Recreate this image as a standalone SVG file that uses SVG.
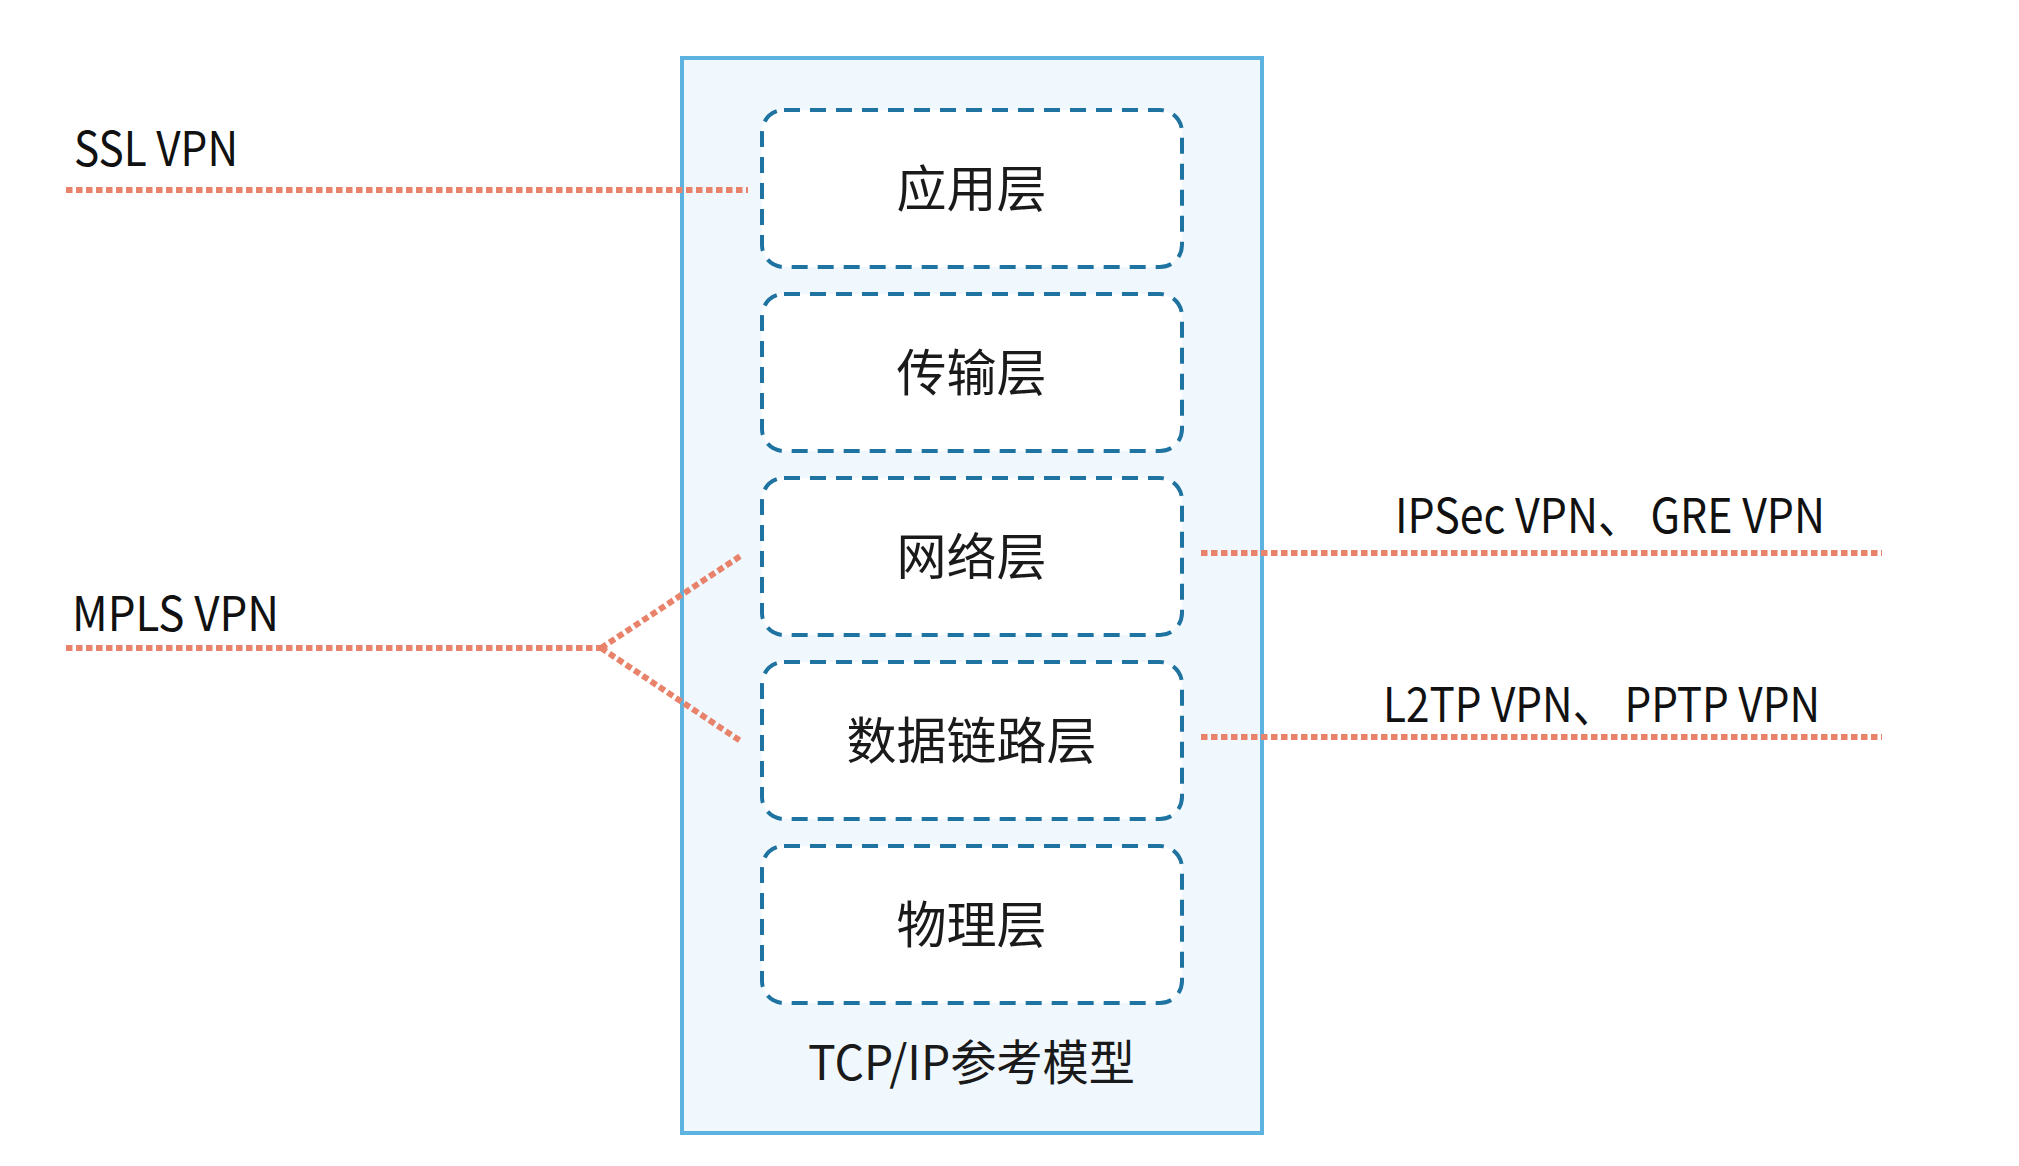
<svg xmlns="http://www.w3.org/2000/svg" width="2019" height="1166" viewBox="0 0 2019 1166">
<style>
.outer{fill:#f0f8fe;stroke:#5cb3df;stroke-width:4}
.layer{fill:#ffffff;stroke:#1f73a0;stroke-width:4;stroke-dasharray:16 10}
.lt{font-family:"Noto Sans CJK SC","Noto Sans",sans-serif;font-size:50px;fill:#1a1a1a;text-anchor:middle}
.lbl{font-family:"Noto Sans CJK SC","Noto Sans",sans-serif;font-size:48px;fill:#111111}
.dot{fill:none;stroke:#e8826b;stroke-width:6;stroke-dasharray:6.5 3.5}
</style>
<rect width="2019" height="1166" fill="#ffffff"/>
<g id="model">
<rect class="outer" x="682" y="58" width="580" height="1075"/>
<text class="lt" x="971.5" y="1080" style="font-size:48px" textLength="327" lengthAdjust="spacingAndGlyphs">TCP/IP参考模型</text>
</g>
<g id="application">
<rect class="layer" x="762" y="110" width="420" height="157" rx="22"/>
<text class="lt" x="971.5" y="207">应用层</text>
</g>
<g id="transport">
<rect class="layer" x="762" y="294" width="420" height="157" rx="22"/>
<text class="lt" x="971.5" y="391">传输层</text>
</g>
<g id="network">
<rect class="layer" x="762" y="478" width="420" height="157" rx="22"/>
<text class="lt" x="971.5" y="575">网络层</text>
</g>
<g id="datalink">
<rect class="layer" x="762" y="662" width="420" height="157" rx="22"/>
<text class="lt" x="971.5" y="759">数据链路层</text>
</g>
<g id="physical">
<rect class="layer" x="762" y="846" width="420" height="157" rx="22"/>
<text class="lt" x="971.5" y="943">物理层</text>
</g>
<g id="labels">
<text class="lbl" x="74" y="166" textLength="164" lengthAdjust="spacingAndGlyphs">SSL VPN</text>
<text class="lbl" x="72" y="631" textLength="207" lengthAdjust="spacingAndGlyphs">MPLS VPN</text>
<text class="lbl" x="1395" y="533" textLength="430" lengthAdjust="spacingAndGlyphs">IPSec VPN、 GRE VPN</text>
<text class="lbl" x="1383" y="722" textLength="437" lengthAdjust="spacingAndGlyphs">L2TP VPN、 PPTP VPN</text>
</g>
<g id="connectors">
<line class="dot" x1="66" y1="190" x2="748" y2="190"/>
<line class="dot" x1="66" y1="648" x2="601" y2="648"/>
<line class="dot" x1="601" y1="648" x2="742" y2="555"/>
<line class="dot" x1="601" y1="648" x2="742" y2="742"/>
<line class="dot" x1="1201" y1="553" x2="1882" y2="553"/>
<line class="dot" x1="1201" y1="737" x2="1882" y2="737"/>
</g>
</svg>
